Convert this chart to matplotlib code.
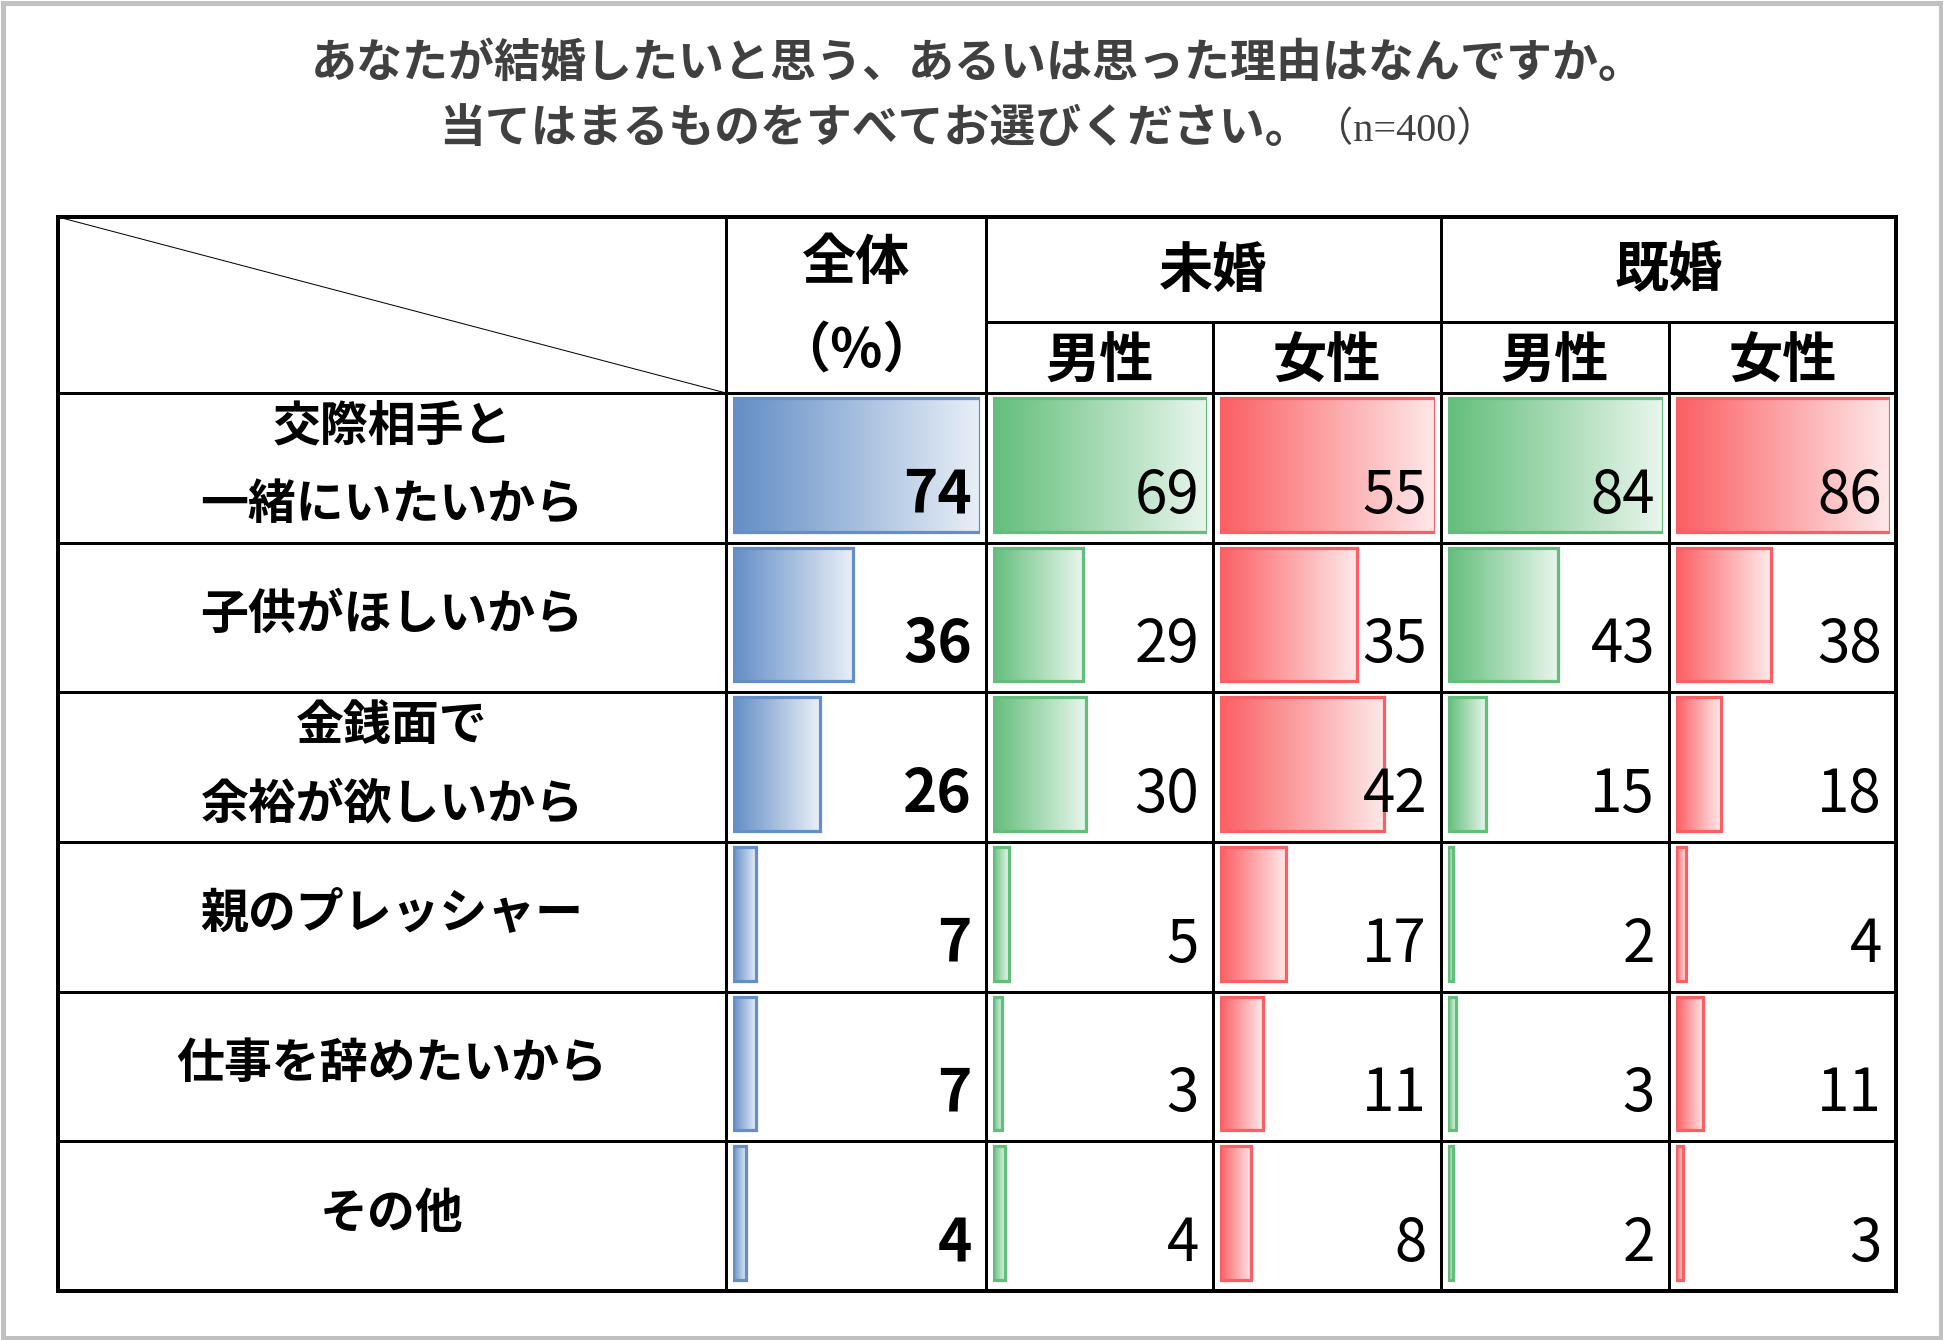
import numpy as np
import matplotlib
matplotlib.use("Agg")
import matplotlib.pyplot as plt
from matplotlib.colors import to_rgb
from matplotlib.patches import Rectangle

plt.rcParams['font.family'] = ['Noto Sans CJK JP', 'DejaVu Sans']

# ---------------- data ----------------
title_line1 = 'あなたが結婚したいと思う、あるいは思った理由はなんですか。'
title_line2 = '当てはまるものをすべてお選びください。'
title_n = '（n=400）'

categories = ['交際相手と\n一緒にいたいから', '子供がほしいから', '金銭面で\n余裕が欲しいから',
              '親のプレッシャー', '仕事を辞めたいから', 'その他']
total = [74, 36, 26, 7, 7, 4]
unmarried_male = [69, 29, 30, 5, 3, 4]
unmarried_female = [55, 35, 42, 17, 11, 8]
married_male = [84, 43, 15, 2, 3, 2]
married_female = [86, 38, 18, 4, 11, 3]

group_labels = ['未婚', '既婚']
sub_labels = ['男性', '女性', '男性', '女性']
total_label = ['全体', '（%）']

series = [total, unmarried_male, unmarried_female, married_male, married_female]
colors = ['#638EC6', '#63BE7B', '#FA5F63', '#63BE7B', '#FA5F63']
bold_cols = [True, False, False, False, False]

# ---------------- layout (pixels) ----------------
W, H, DPI = 1943, 1340, 100
L, R, T, B = 58, 1896, 217, 1291
cols = [58, 726, 986, 1213, 1441, 1669, 1896]
head_mid, head_bot = 322, 393
nrows = len(categories)
row_h = (B - head_bot) / nrows
px = 72.0 / DPI  # points per pixel

fig = plt.figure(figsize=(W / DPI, H / DPI), dpi=DPI)

# ---------------- bars (one axes per data column) ----------------
pad_l, pad_r, pad_t, pad_b = 7, 6, 5, 11
bar_h = (row_h - pad_t - pad_b) / row_h
bar_off = (pad_t - pad_b) / (2 * row_h)

for j, vals in enumerate(series):
    x0 = cols[j + 1] + pad_l
    x1 = cols[j + 2] - pad_r
    bax = fig.add_axes([x0 / W, (H - B) / H, (x1 - x0) / W, (B - head_bot) / H])
    bax.axis('off')
    bax.set_zorder(1)
    c = np.array(to_rgb(colors[j]))
    light = c + (1 - c) * 0.86
    t = np.linspace(0, 1, 256)[None, :, None]
    grad = c[None, None, :] * (1 - t) + light[None, None, :] * t
    ys = np.arange(nrows) + bar_off
    for i, v in enumerate(vals):
        bax.imshow(grad, extent=[0, v, ys[i] + bar_h / 2, ys[i] - bar_h / 2],
                   aspect='auto', interpolation='bilinear', zorder=1)
    bax.barh(ys, vals, height=bar_h, fill=False, edgecolor=colors[j],
             linewidth=3.2 * px, zorder=2)
    bax.set_xlim(0, max(vals))
    bax.set_ylim(nrows - 0.5, -0.5)

# overlay axes for text and grid (above the bars)
ax = fig.add_axes([0, 0, 1, 1])
ax.set_zorder(10)
ax.patch.set_visible(False)
ax.set_xlim(0, W)
ax.set_ylim(H, 0)
ax.axis('off')

# outer gray frame
ax.add_patch(Rectangle((2.5, 2.5), W - 5, H - 5, fill=False, edgecolor='#c0c0c0',
                       linewidth=5 * px, clip_on=False))

# title
tcol = '#404040'
ax.text(W / 2 + 6, 63, title_line1, ha='center', va='center', fontsize=33.1, fontweight='bold', color=tcol)
ax.text(1311, 129, title_line2, ha='right', va='center', fontsize=33, fontweight='bold', color=tcol)
ax.text(1313, 131, title_n, ha='left', va='center', fontsize=29, color=tcol,
        family=['Liberation Serif', 'Noto Sans CJK JP'])

# value labels
for j, vals in enumerate(series):
    for i, v in enumerate(vals):
        yb = head_bot + (i + 1) * row_h - 30
        ax.text(cols[j + 2] - 14, yb, str(v), ha='right', va='baseline', fontsize=42,
                fontweight='bold' if bold_cols[j] else 'normal', color='black', zorder=5)

# ---------------- row labels ----------------
label_cx = (cols[0] + cols[1]) / 2
lfs = 34.5
for i, lab in enumerate(categories):
    rc = head_bot + (i + 0.5) * row_h - 3
    lines = lab.split('\n')
    if len(lines) == 1:
        ax.text(label_cx, rc, lines[0], ha='center', va='center', fontsize=lfs, fontweight='bold')
    else:
        ax.text(label_cx, rc - 39, lines[0], ha='center', va='center', fontsize=lfs, fontweight='bold')
        ax.text(label_cx, rc + 40, lines[1], ha='center', va='center', fontsize=lfs, fontweight='bold')

# ---------------- header ----------------
hfs = 39
ax.text((cols[1] + cols[2]) / 2, 263, total_label[0], ha='center', va='center', fontsize=hfs, fontweight='bold')
ax.text((cols[1] + cols[2]) / 2, 352, total_label[1], ha='center', va='center', fontsize=hfs, fontweight='bold')
ax.text((cols[2] + cols[4]) / 2, 271, group_labels[0], ha='center', va='center', fontsize=hfs, fontweight='bold')
ax.text((cols[4] + cols[6]) / 2, 271, group_labels[1], ha='center', va='center', fontsize=hfs, fontweight='bold')
for k, s in enumerate(sub_labels):
    ax.text((cols[k + 2] + cols[k + 3]) / 2, 362, s, ha='center', va='center', fontsize=hfs, fontweight='bold')

# ---------------- grid lines ----------------
lw_in = 3 * px
lw_out = 4 * px
ax.plot([L, cols[1]], [T, head_bot], color='black', linewidth=1 * px, zorder=6)
for i in range(nrows):
    y = head_bot + i * row_h
    ax.plot([L, R], [y, y], color='black', linewidth=lw_in, zorder=6, solid_capstyle='butt')
ax.plot([cols[2], R], [head_mid, head_mid], color='black', linewidth=lw_in, zorder=6, solid_capstyle='butt')
for k in (1, 2, 4):
    ax.plot([cols[k], cols[k]], [T, B], color='black', linewidth=lw_in, zorder=6, solid_capstyle='butt')
for k in (3, 5):
    ax.plot([cols[k], cols[k]], [head_mid, B], color='black', linewidth=lw_in, zorder=6, solid_capstyle='butt')
ax.add_patch(Rectangle((L, T), R - L, B - T, fill=False, edgecolor='black', linewidth=lw_out, zorder=7))

fig.savefig('out.png', dpi=DPI)
